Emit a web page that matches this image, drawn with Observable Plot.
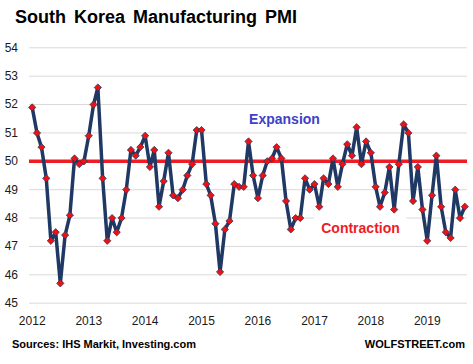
<!DOCTYPE html>
<html>
<head>
<meta charset="utf-8">
<script src="https://cdn.jsdelivr.net/npm/d3@7"></script>
<script src="https://cdn.jsdelivr.net/npm/@observablehq/plot@0.6"></script>
<style>
  html, body { margin: 0; padding: 0; background: #fff; }
  #wrap { position: relative; width: 473px; height: 364px; overflow: hidden; font-family: "Liberation Sans", Arial, sans-serif; }
  #title { position: absolute; left: 15px; top: 7.5px; font-size: 18px; line-height: 18px; font-weight: bold; color: #000; word-spacing: 3px; white-space: nowrap; }
  #chart { position: absolute; left: 0; top: 34px; }
  #src { position: absolute; left: 12px; top: 339px; font-size: 11px; line-height: 11px; font-weight: bold; color: #000; white-space: nowrap; }
  #brand { position: absolute; right: 8px; top: 339px; font-size: 11px; line-height: 11px; font-weight: bold; color: #000; white-space: nowrap; }
</style>
</head>
<body>
<div id="wrap">
  <div id="title">South Korea Manufacturing PMI</div>
  <div id="chart"></div>
  <div id="src">Sources: IHS Markit, Investing.com</div>
  <div id="brand">WOLFSTREET.com</div>
</div>
<script>
// Monthly PMI readings, one array per year (Jan..Dec)
const years = [2012, 2013, 2014, 2015, 2016, 2017, 2018, 2019];
const pmi2012 = [51.9, 51.0, 50.5, 49.4, 47.2, 47.5, 45.7, 47.4, 48.1, 50.1, 49.9, 50.0];
const pmi2013 = [50.9, 52.0, 52.6, 49.4, 47.2, 48.0, 47.5, 48.0, 49.0, 50.4, 50.2, 50.5];
const pmi2014 = [50.9, 49.8, 50.4, 48.4, 49.3, 50.3, 48.8, 48.7, 49.0, 49.5, 49.9, 51.1];
const pmi2015 = [51.1, 49.2, 48.8, 47.8, 46.1, 47.6, 47.9, 49.2, 49.1, 49.1, 50.7, 49.5];
const pmi2016 = [48.7, 49.5, 50.0, 50.1, 50.5, 50.1, 48.6, 47.6, 48.0, 48.0, 49.4, 49.0];
const pmi2017 = [49.2, 48.4, 49.4, 49.2, 50.1, 49.1, 49.9, 50.6, 50.2, 51.2, 49.9, 50.7];
const pmi2018 = [50.3, 49.1, 48.4, 48.9, 49.8, 48.3, 49.9, 51.3, 51.0, 48.6, 49.8, 48.3];
const pmi2019 = [47.2, 48.8, 50.2, 48.4, 47.5, 47.3, 49.0, 48.0, 48.4];
const pmiByYear = [pmi2012, pmi2013, pmi2014, pmi2015, pmi2016, pmi2017, pmi2018, pmi2019];

const yTicks = [45, 46, 47, 48, 49, 50, 51, 52, 53, 54];
const xTickLabels = ["2012", "2013", "2014", "2015", "2016", "2017", "2018", "2019"];
const threshold = [50];

const annotationLabels = ["Expansion", "Contraction"];
const annotationDates = ["2016-06-21", "2017-10-26"];
const annotationValues = [51.48, 47.63];
const annotationColors = ["#4040c8", "#ee1c25"];

// Build table
const data = [];
years.forEach((yr, i) => {
  pmiByYear[i].forEach((v, m) => data.push({date: new Date(Date.UTC(yr, m, 1)), value: v}));
});
const xTicks = xTickLabels.map(s => new Date(Date.UTC(+s, 0, 1)));
const annotations = annotationLabels.map((t, i) => ({
  text: t, date: new Date(annotationDates[i] + "T00:00:00Z"), value: annotationValues[i], color: annotationColors[i]
}));

const lineColor = "#1f3864";

const chart = Plot.plot({
  width: 473,
  height: 296,
  marginLeft: 29,
  marginRight: 6,
  marginTop: 13.3,
  marginBottom: 27.3,
  style: {fontFamily: "'Liberation Sans', Arial, sans-serif", fontSize: "12px", color: "#1a1a1a", background: "#fff", overflow: "visible"},
  x: {
    type: "utc",
    domain: [data[0].date, data[data.length - 1].date],
    insetLeft: 2.7,
    insetRight: 2.7,
    ticks: xTicks,
    tickFormat: d => String(d.getUTCFullYear()),
    tickSize: 0,
    tickPadding: 12.8,
    label: null
  },
  y: {
    domain: [45, 54],
    ticks: yTicks,
    tickSize: 0,
    tickPadding: 11.5,
    label: null
  },
  marks: [
    Plot.ruleY(yTicks, {stroke: "#d9d9d9", strokeWidth: 1}),
    Plot.text(annotations.filter(d => d.text === "Contraction"), {
      x: "date", y: "value", text: "text", fill: "white", stroke: "white", strokeWidth: 22,
      fontSize: 14, fontWeight: "bold"
    }),
    Plot.text(annotations, {
      x: "date", y: "value", text: "text", fill: "color",
      fontSize: 14, fontWeight: "bold"
    }),
    Plot.ruleY(threshold, {stroke: "#ee1c25", strokeWidth: 3.5}),
    Plot.line(data, {x: "date", y: "value", stroke: lineColor, strokeWidth: 3.5, strokeLinejoin: "round"}),
    Plot.dot(data, {x: "date", y: "value", symbol: "square", rotate: 45, r: 2.9, fill: "#ee1111", stroke: lineColor, strokeWidth: 0.7})
  ]
});
document.getElementById("chart").appendChild(chart);
</script>
</body>
</html>
